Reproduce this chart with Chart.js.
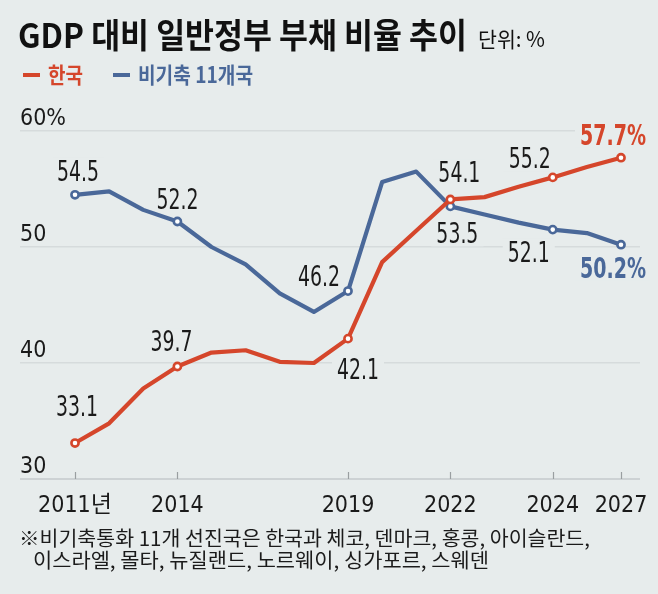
<!DOCTYPE html>
<html><head><meta charset="utf-8">
<script src="https://cdn.jsdelivr.net/npm/chart.js@4.4.1/dist/chart.umd.min.js"></script>
<style>
html,body{margin:0;padding:0;background:#e7ecec;}
#wrap{position:relative;width:658px;height:594px;overflow:hidden;background:#e7ecec;}
#holder{position:absolute;left:0;top:0;width:658px;height:594px;}
.t{position:absolute;white-space:nowrap;font-family:"Noto Sans CJK KR","Noto Sans",sans-serif;line-height:1;transform-origin:0 0;}
#title{left:18px;top:17px;font-size:34px;font-weight:700;color:#111;}
#unit{left:478px;top:28px;font-size:21px;font-weight:400;color:#111;}
.lg{top:62px;font-size:22px;font-weight:700;}
.dash{position:absolute;height:4px;}
.fn{font-size:20px;font-weight:400;color:#1b1b1b;}
</style></head>
<body><div id="wrap">
<div id="holder"><canvas id="cv"></canvas></div>
<div class="t" id="title" data-w="449">GDP 대비 일반정부 부채 비율 추이</div>
<div class="t" id="unit" data-w="67">단위: %</div>
<div id="legend"></div>
<div class="t fn" style="left:19px;top:528px" data-w="571">※비기축통화 11개 선진국은 한국과 체코, 덴마크, 홍콩, 아이슬란드,</div>
<div class="t fn" style="left:33px;top:550px" data-w="456">이스라엘, 몰타, 뉴질랜드, 노르웨이, 싱가포르, 스웨덴</div>
</div>
<script>
// ---- data ----
const years = [2011,2012,2013,2014,2015,2016,2017,2018,2019,2020,2021,2022,2023,2024,2025,2026,2027];
const seriesNames = ['한국','비기축 11개국'];
const korea = [33.1,34.8,37.8,39.7,40.9,41.1,40.1,40.0,42.1,48.7,51.4,54.1,54.3,55.2,56.0,56.9,57.7];
const peers = [54.5,54.8,53.2,52.2,50.0,48.5,46.0,44.4,46.2,55.6,56.5,53.5,52.8,52.1,51.5,51.2,50.2];
const markerIdx = [0,3,8,11,14,16];
const koreaCallouts = ['33.1','39.7','42.1','54.1','55.2','57.7%'];
const peersCallouts = ['54.5','52.2','46.2','53.5','52.1','50.2%'];
const xTickLabels = ['2011년','','','2014','','','','','2019','','','2022','','','2024','','2027'];
const yTickValues = [30,40,50,60];
const yTickLabels = ['30','40','50','60%'];

// ---- style ----
const BG = '#e7ecec';
const RED = '#d5462b';
const BLUE = '#4a6899';
const INK = '#1a1a1a';

function hasFont(name){
  const c=document.createElement('canvas').getContext('2d');
  const t='0123456789%.abcXYZ';
  let diff=false;
  ['monospace','serif'].forEach(f=>{
    c.font='40px '+f; const a=c.measureText(t).width;
    c.font='40px "'+name+'", '+f; const b=c.measureText(t).width;
    if(Math.abs(a-b)>0.5) diff=true;
  });
  return diff;
}
let numFace = 'Liberation Sans';
for (const f of ['Liberation Sans Narrow','DejaVu Sans Condensed','Roboto Condensed']) { if (hasFont(f)) { numFace=f; break; } }
const NUM = '"'+numFace+'", "Noto Sans CJK KR", sans-serif';

// legend (html)
const legend = document.getElementById('legend');
[[RED,23,48,35],[BLUE,113,138,115]].forEach((s,i)=>{
  const d=document.createElement('div'); d.className='dash';
  d.style.cssText='left:'+s[1]+'px;top:73px;width:17px;background:'+s[0];
  legend.appendChild(d);
  const t=document.createElement('div'); t.className='t lg';
  t.style.left=s[2]+'px'; t.style.color=s[0]; t.dataset.w=s[3];
  t.textContent=seriesNames[i];
  legend.appendChild(t);
});

function fitTexts(){
  document.querySelectorAll('[data-w]').forEach(el=>{
    el.style.transform='none';
    const w=el.getBoundingClientRect().width;
    el.style.transform='scaleX('+(parseFloat(el.dataset.w)/w)+')';
  });
}

const placement = [
  [[2,-37],[-6,-25],[10,30],[9,-27],[-23,-19],[-8,-23]],
  [[3,-24],[0,-22],[-29,-15],[7,27],[-24,22],[-8,23]]
];
let SXR=1, SXB=1;
function calibrate(ctx){
  ctx.save();
  ctx.font='28px '+NUM; SXR = 42/ctx.measureText('54.5').width;
  ctx.font='bold 28px '+NUM; SXB = 66/ctx.measureText('57.7%').width;
  ctx.restore();
}
function drawCallouts(chart,bgOnly){
  const ctx=chart.ctx;
  chart.data.datasets.forEach((ds,di)=>{
    const meta=chart.getDatasetMeta(di);
    ds.callouts.forEach((txt,k)=>{
      const pt=meta.data[markerIdx[k]];
      const [dx,dy]=placement[di][k];
      const last=k===ds.callouts.length-1;
      ctx.save();
      ctx.font=(last?'bold ':'')+'28px '+NUM;
      const sx=last?SXB:SXR;
      const w=ctx.measureText(txt).width*sx;
      const cx=pt.x+dx, cy=pt.y+dy;
      if(bgOnly){
        ctx.fillStyle=BG;
        ctx.fillRect(cx-w/2-5, cy-13, w+10, 26);
      } else {
        ctx.translate(cx,cy+10);
        ctx.scale(sx,1);
        ctx.fillStyle=last?ds.borderColor:INK;
        ctx.textAlign='center'; ctx.textBaseline='alphabetic';
        ctx.fillText(txt,0,0);
      }
      ctx.restore();
    });
  });
}
const decoPlugin = {
  id:'deco',
  beforeDatasetsDraw(chart){
    const ctx=chart.ctx, xs=chart.scales.x, a=chart.chartArea;
    ctx.save();
    ctx.strokeStyle='#9a9fa1'; ctx.lineWidth=1.2;
    xs.ticks.forEach(t=>{
      const x=Math.round(xs.getPixelForValue(t.value))+0.5;
      ctx.beginPath(); ctx.moveTo(x,a.bottom-7); ctx.lineTo(x,a.bottom); ctx.stroke();
    });
    ctx.restore();
    drawCallouts(chart,true);
  },
  afterDatasetsDraw(chart){ drawCallouts(chart,false); }
};

function lineDs(name,vals,color,callouts){
  return {
    label:name, data:vals.map((v,i)=>({x:i,y:v})), callouts:callouts,
    borderColor:color, backgroundColor:color, borderWidth:4.2,
    borderJoinStyle:'round', borderCapStyle:'round', tension:0,
    pointRadius:c=>markerIdx.includes(c.dataIndex)?3.6:0,
    pointBackgroundColor:'#ffffff', pointBorderColor:color, pointBorderWidth:2.6,
    pointHoverRadius:0
  };
}

function build(){
  fitTexts();
  const ctx=document.getElementById('cv').getContext('2d');
  calibrate(ctx);
  new Chart(ctx,{
    type:'line',
    data:{datasets:[lineDs(seriesNames[0],korea,RED,koreaCallouts), lineDs(seriesNames[1],peers,BLUE,peersCallouts)]},
    options:{
      responsive:true, maintainAspectRatio:false, animation:false,
      layout:{padding:{left:20,right:18,top:131,bottom:0}},
      plugins:{legend:{display:false},tooltip:{enabled:false}},
      scales:{
        x:{type:'linear',min:-1.612,max:16.557,
          afterBuildTicks:s=>{s.ticks=xTickLabels.map((l,i)=>l?{value:i}:null).filter(Boolean);},
          afterFit:s=>{s.height=115;},
          grid:{display:false}, border:{display:false},
          ticks:{autoSkip:false,maxRotation:0,minRotation:0,padding:5,color:INK,
            font:{family:NUM,size:23},callback:v=>xTickLabels[v]}},
        y:{min:30,max:60,
          afterBuildTicks:s=>{s.ticks=yTickValues.map(v=>({value:v}));},
          afterFit:s=>{s.width=0;},
          grid:{drawTicks:false,color:c=>c.tick&&c.tick.value===30?'#cdd2d4':'#d6dbdc',lineWidth:c=>c.tick&&c.tick.value===30?2:1.6},
          border:{display:false},
          ticks:{mirror:true,padding:0,labelOffset:-12,color:INK,font:{family:NUM,size:23},
            callback:(v,i)=>yTickLabels[yTickValues.indexOf(v)]}}
      }
    },
    plugins:[decoPlugin]
  });
}
if(document.fonts&&document.fonts.ready){document.fonts.ready.then(build);}else{build();}
</script>
</body></html>
